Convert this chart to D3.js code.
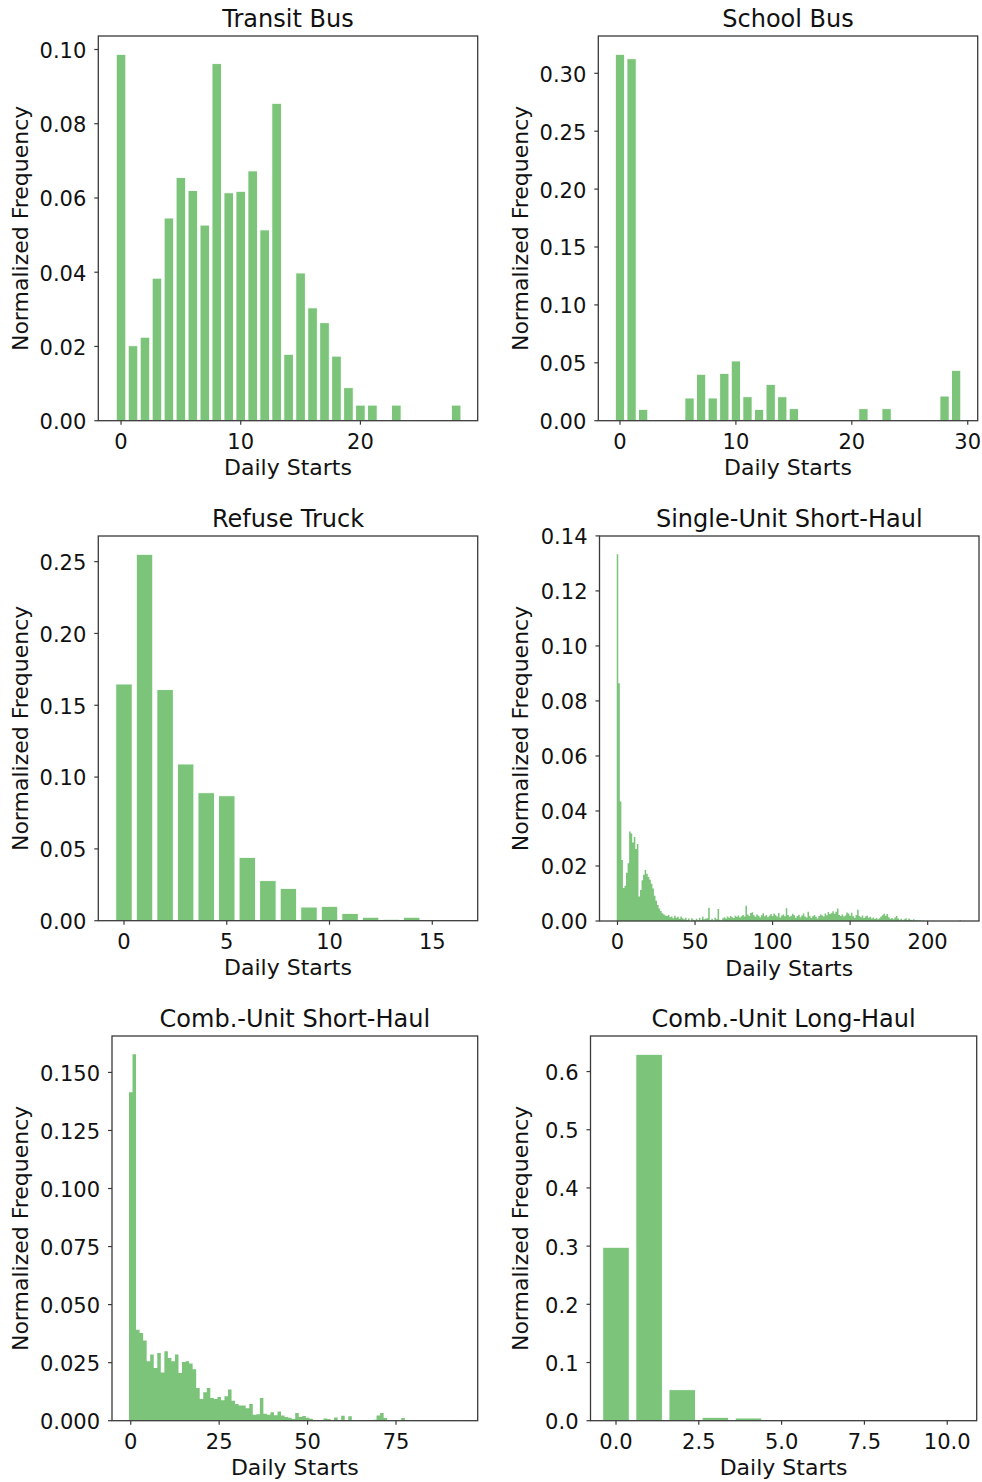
<!DOCTYPE html>
<html><head><meta charset="utf-8">
<script src="https://cdn.jsdelivr.net/npm/d3@7"></script>
<style>
body{margin:0;background:#fff}
text{font-family:"DejaVu Sans",sans-serif;fill:#111}
</style></head>
<body><svg id="c" width="982" height="1482"></svg>
<script>
// ---------- data (bin index = daily starts) ----------
const transitValues = [0.0987,0.0202,0.0225,0.0384,0.0546,0.0655,0.0620,0.0527,0.0962,0.0614,
  0.0618,0.0673,0.0514,0.0855,0.0179,0.0398,0.0304,0.0264,0.0174,0.0089,
  0.0042,0.0042,0,0.0042,0,0,0,0.0002,0.0042];
const schoolValues = [0.3164,0.3126,0.0098,0,0,0,0.0196,0.0401,0.0196,0.0409,
  0.0516,0.0207,0.0098,0.0314,0.0207,0.0104,0,0,0,0,
  0,0.0104,0,0.0104,0,0,0,0,0.0213,0.0435];
const refuseValues = [0.1648,0.2551,0.1609,0.1091,0.0891,0.0870,0.0441,0.0279,0.0225,0.0095,
  0.0100,0.0051,0.0024,0.0010,0.0024,0.0003,0.0005];
const singleUnitValues = [
  0.1333,0.0864,0.0434,0.0222,0.0120,0.0128,0.0175,0.0210,0.0325,0.0318,
  0.0285,0.0305,0.0262,0.0280,0.0089,0.0113,0.0148,0.0168,0.0185,0.0172,
  0.0160,0.0150,0.0135,0.0118,0.0092,0.0074,0.0058,0.0045,0.0036,0.0028,
  0.0024,0.0020,0.0018,0.0022,0.0014,0.0016,0.0010,0.0019,0.0012,0.0015,
  0.0008,0.0016,0.0010,0.0006,0.0012,0.0004,0.0009,0.0000,0.0010,0.0005,
  0.0002,0.0008,0.0003,0.0012,0.0004,0.0015,0.0006,0.0009,0.0010,0.0048,
  0.0004,0.0008,0.0002,0.0012,0.0006,0.0044,0.0005,0.0003,0.0010,0.0014,
  0.0009,0.0016,0.0012,0.0018,0.0014,0.0011,0.0019,0.0015,0.0020,0.0013,
  0.0017,0.0022,0.0016,0.0055,0.0024,0.0018,0.0029,0.0032,0.0021,0.0015,
  0.0024,0.0019,0.0013,0.0021,0.0028,0.0017,0.0022,0.0014,0.0019,0.0025,
  0.0018,0.0027,0.0021,0.0016,0.0029,0.0013,0.0020,0.0024,0.0017,0.0046,
  0.0022,0.0015,0.0019,0.0026,0.0021,0.0012,0.0018,0.0023,0.0014,0.0020,
  0.0027,0.0016,0.0013,0.0034,0.0019,0.0011,0.0017,0.0022,0.0015,0.0009,
  0.0018,0.0024,0.0020,0.0016,0.0027,0.0021,0.0033,0.0025,0.0028,0.0035,
  0.0026,0.0034,0.0045,0.0022,0.0018,0.0024,0.0016,0.0020,0.0031,0.0027,
  0.0019,0.0030,0.0017,0.0012,0.0022,0.0041,0.0018,0.0014,0.0020,0.0011,
  0.0016,0.0019,0.0012,0.0015,0.0009,0.0013,0.0007,0.0011,0.0006,0.0010,
  0.0016,0.0021,0.0026,0.0019,0.0025,0.0014,0.0008,0.0011,0.0006,0.0013,
  0.0018,0.0009,0.0005,0.0008,0.0003,0.0006,0.0010,0.0004,0.0009,0.0005,
  0.0003,0.0006,0.0002,0.0004,0.0002,0.0003,0.0001,0.0002,0.0001,0,
  0.0001,0,0,0.0001,0,0,0,0,0,0,
  0,0,0,0,0,0,0,0,0,0,
  0,0.0003];
const combShortValues = [
  0.1415,0.1578,0.0392,0.0378,0.0345,0.0256,0.0285,0.0227,0.0292,0.0208,
  0.0299,0.0270,0.0256,0.0285,0.0205,0.0253,0.0256,0.0246,0.0222,0.0141,
  0.0093,0.0122,0.0141,0.0098,0.0093,0.0102,0.0088,0.0105,0.0134,0.0086,
  0.0072,0.0065,0.0066,0.0054,0.0072,0.0026,0.0028,0.0098,0.0030,0.0026,
  0.0036,0.0023,0.0040,0.0022,0.0016,0.0013,0.0007,0.0033,0.0016,0.0020,
  0.0013,0.0008,0.0003,0.0002,0,0.0010,0.0007,0.0002,0.0014,0.0002,
  0.0021,0.0002,0.0019,0,0,0.0001,0.0003,0.0003,0.0003,0.0004,
  0.0022,0.0033,0.0012,0.0002,0,0,0,0.0012,0.0003,0,
  0.0003,0,0,0,0,0,0,0,0,0,
  0,0,0,0.0003];
const longHaulValues = [0.298,0.6296,0.0533,0.0058,0.0046,0.0012,0.0004,0,0,0,0];

const titles = ["Transit Bus","School Bus","Refuse Truck","Single-Unit Short-Haul","Comb.-Unit Short-Haul","Comb.-Unit Long-Haul"];
const transitXTicks = [0,10,20],   transitYTicks = [0,0.02,0.04,0.06,0.08,0.10];
const schoolXTicks = [0,10,20,30], schoolYTicks = [0,0.05,0.10,0.15,0.20,0.25,0.30];
const refuseXTicks = [0,5,10,15],  refuseYTicks = [0,0.05,0.10,0.15,0.20,0.25];
const singleXTicks = [0,50,100,150,200], singleYTicks = [0,0.02,0.04,0.06,0.08,0.10,0.12,0.14];
const combShortXTicks = [0,25,50,75], combShortYTicks = [0,0.025,0.05,0.075,0.10,0.125,0.15];
const longHaulXTicks = [0,2.5,5,7.5,10], longHaulYTicks = [0,0.1,0.2,0.3,0.4,0.5,0.6];

// ---------- layout ----------
const panels = [
  {title:titles[0], v:transitValues, xt:transitXTicks, yt:transitYTicks, xf:"d", yf:".2f", xlim:[-1.9,29.8], b:[98.3,477.7,36,420.7], lab:28, dense:false},
  {title:titles[1], v:schoolValues, xt:schoolXTicks, yt:schoolYTicks, xf:"d", yf:".2f", xlim:[-1.87,30.86], b:[598.3,977.7,36,420.7], lab:528, dense:false},
  {title:titles[2], v:refuseValues, xt:refuseXTicks, yt:refuseYTicks, xf:"d", yf:".2f", xlim:[-1.25,17.21], b:[98.3,477.7,536,920.7], lab:28, dense:false},
  {title:titles[3], v:singleUnitValues, xt:singleXTicks, yt:singleYTicks, xf:"d", yf:".2f", xlim:[-11.6,233.1], b:[599.5,979,536,921], lab:528, dense:true},
  {title:titles[4], v:combShortValues, xt:combShortXTicks, yt:combShortYTicks, xf:"d", yf:".3f", xlim:[-5.3,98.1], b:[112,477.7,1036,1420.7], lab:28, dense:true},
  {title:titles[5], v:longHaulValues, xt:longHaulXTicks, yt:longHaulYTicks, xf:".1f", yf:".1f", xlim:[-0.77,10.89], b:[590.5,976.7,1036,1420.7], lab:528, dense:false}
];
const barColor = "#7bc47a";
const svg = d3.select("#c");

panels.forEach((p,i) => {
  const [x0,x1,y0,y1] = p.b;
  const x = d3.scaleLinear().domain(p.xlim).range([x0,x1]);
  const y = d3.scaleLinear().domain([0, d3.max(p.v)*1.05]).range([y1,y0]);
  const g = svg.append("g");
  const cid = "clip"+i;
  g.append("clipPath").attr("id",cid).append("rect")
    .attr("x",x0).attr("y",y0).attr("width",x1-x0).attr("height",y1-y0);
  const plot = g.append("g").attr("clip-path",`url(#${cid})`);
  if (p.dense) {
    // contiguous histogram drawn as a stepped area through the scales
    const pts = [];
    p.v.forEach((d,k) => { pts.push({e:k-0.5, d}); pts.push({e:k+0.5, d}); });
    const area = d3.area().x(o => x(o.e)).y0(y1).y1(o => y(o.d));
    plot.append("path").attr("d", area(pts)).attr("fill", barColor);
  } else {
    const bw = 0.8;
    plot.selectAll("rect").data(p.v.map((d,k)=>({k,d})).filter(o=>o.d>0)).join("rect")
      .attr("x", o => x(o.k - bw/2))
      .attr("width", o => x(o.k + bw/2) - x(o.k - bw/2))
      .attr("y", o => y(o.d))
      .attr("height", o => y1 - y(o.d))
      .attr("fill", barColor)
      .attr("stroke", "#ffffff")
      .attr("stroke-width", 0.9);
  }
  // frame
  g.append("rect").attr("x",x0).attr("y",y0).attr("width",x1-x0).attr("height",y1-y0)
    .attr("fill","none").attr("stroke","#3a3a3a").attr("stroke-width",1.3);
  // y ticks
  const yf = d3.format(p.yf);
  p.yt.forEach(t => {
    g.append("line").attr("x1",x0-4).attr("x2",x0).attr("y1",y(t)).attr("y2",y(t))
      .attr("stroke","#3a3a3a").attr("stroke-width",1.2);
    g.append("text").attr("x",x0-12).attr("y",y(t)).attr("dy","0.40em")
      .attr("text-anchor","end").attr("font-size",21).text(yf(t));
  });
  // x ticks
  const xf = d3.format(p.xf);
  p.xt.forEach(t => {
    g.append("line").attr("x1",x(t)).attr("x2",x(t)).attr("y1",y1).attr("y2",y1+4)
      .attr("stroke","#3a3a3a").attr("stroke-width",1.2);
    g.append("text").attr("x",x(t)).attr("y",y1+28)
      .attr("text-anchor","middle").attr("font-size",21).text(xf(t));
  });
  // labels
  g.append("text").attr("x",(x0+x1)/2).attr("y",y1+54.5)
    .attr("text-anchor","middle").attr("font-size",22).text("Daily Starts");
  g.append("text").attr("transform",`translate(${p.lab},${(y0+y1)/2}) rotate(-90)`)
    .attr("text-anchor","middle").attr("font-size",22).text("Normalized Frequency");
  g.append("text").attr("x",(x0+x1)/2).attr("y",y0-8.7)
    .attr("text-anchor","middle").attr("font-size",24).text(p.title);
});
</script>
</body></html>
